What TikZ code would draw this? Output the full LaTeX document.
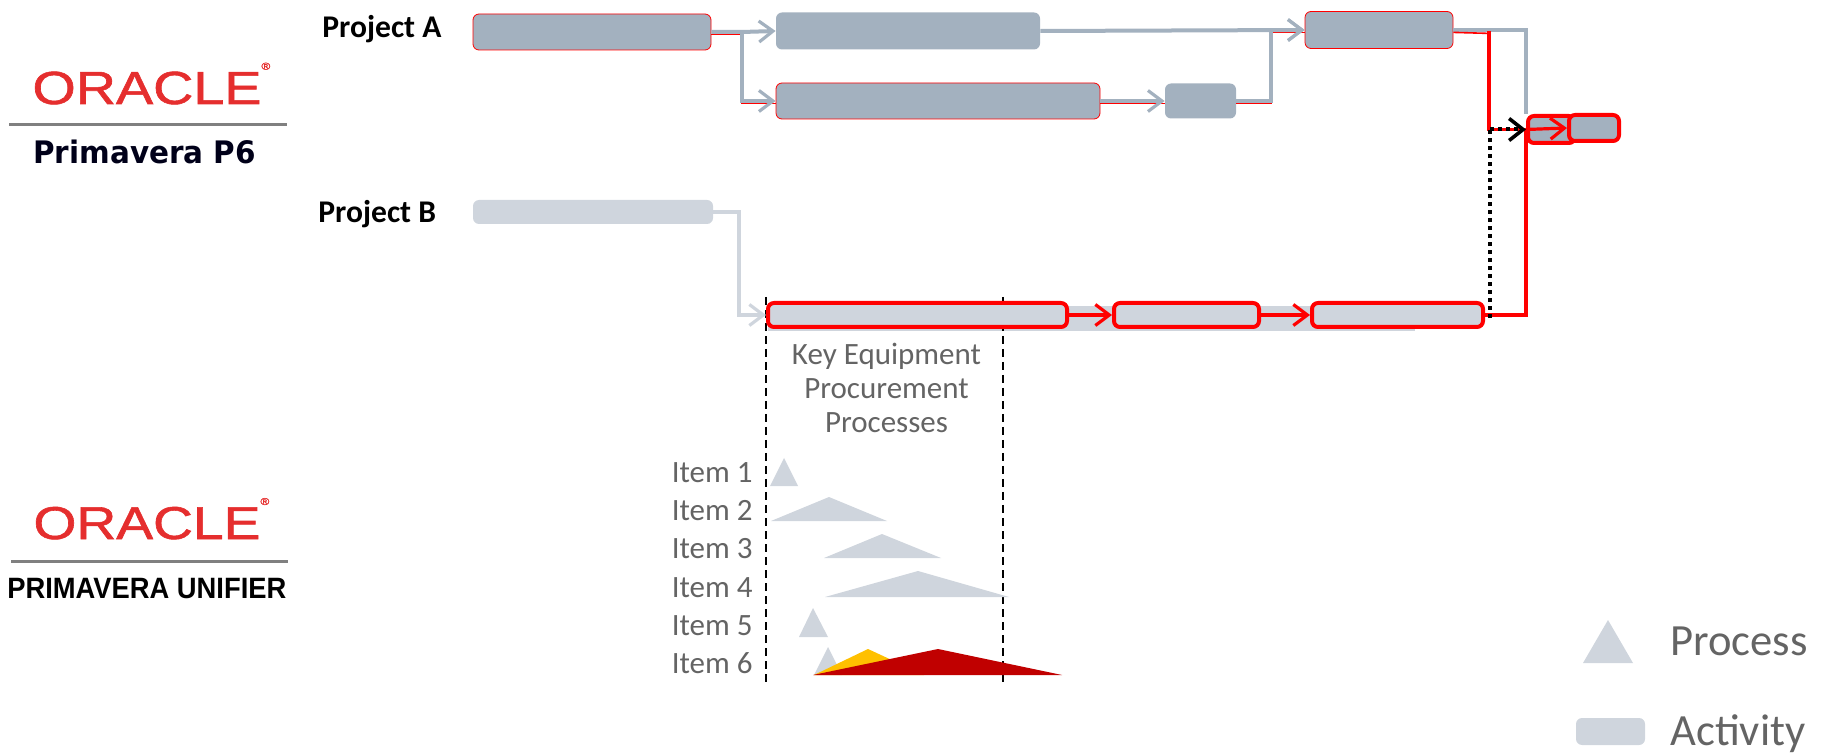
\documentclass[tikz,border=0pt]{standalone}
\usepackage{fontspec}
\setmainfont{Carlito}
\newfontfamily\logofont{Liberation Sans}
\newfontfamily\oraclefont[FakeBold=1.2]{Liberation Sans}
\newfontfamily\pvfont{DejaVu Sans}
\usepackage{tikz}
\usetikzlibrary{arrows.meta}

\definecolor{actdark}{HTML}{A3B1BF}
\definecolor{actlight}{HTML}{CFD5DD}
\definecolor{critred}{HTML}{FF0000}
\definecolor{labelgray}{HTML}{646464}
\definecolor{oraclered}{HTML}{E52E2E}
\definecolor{itemyellow}{HTML}{FFC000}
\definecolor{itemred}{HTML}{C00000}

\tikzset{
  actbox/.style={fill=actdark, rounded corners=3pt, inner sep=0pt},
  critbox/.style={fill=actlight, draw=critred, line width=2pt, rounded corners=3pt, inner sep=0pt},
  link/.style={draw=actdark, line width=2pt},
  lightlink/.style={draw=actlight, line width=1.6pt},
  critline/.style={draw=critred, line width=1.6pt},
  critthin/.style={draw=critred, line width=0.8pt, transform canvas={yshift=-1.2pt}},
  dotline/.style={draw=black, line width=2pt, dash pattern=on 2pt off 2pt},
  barb/.style={-{Straight Barb[length=7pt,width=10.5pt,line width=1.6pt]}},
  itemlabel/.style={text=labelgray, inner sep=0pt, anchor=base east, font=\fontsize{15.5}{17}\selectfont},
  projlabel/.style={inner sep=0pt, anchor=base west, font=\fontsize{15.8}{18}\selectfont\bfseries},
  procfill/.style={fill=actlight}
}

\begin{document}
\begin{tikzpicture}[x=0.5pt,y=-0.5pt]
    \useasboundingbox (0,0) rectangle (1833,754);

    % logos
    \node[inner sep=0pt, anchor=base west, xscale=1.2, text=oraclered, font=\oraclefont\fontsize{23.2}{24}\selectfont] (oracletop) at (32,104) {ORACLE\raisebox{1.4ex}{\fontsize{5}{5}\selectfont ®}};
    \draw[gray, line width=1.5pt] (9,125) -- (287,125);
    \node[inner sep=0pt, anchor=base west, xscale=0.95, text=black!90!blue, font=\pvfont\fontsize{15.5}{17}\selectfont\bfseries] (pvsix) at (33,164) {Primavera P6};

    \node[inner sep=0pt, anchor=base west, xscale=1.2, text=oraclered, font=\oraclefont\fontsize{23}{24}\selectfont] (oraclebot) at (33,539) {ORACLE\raisebox{1.4ex}{\fontsize{5}{5}\selectfont ®}};
    \draw[gray, line width=1.5pt] (11,561) -- (288,561);
    \node[inner sep=0pt, anchor=base west, xscale=0.93, text=black, font=\logofont\fontsize{14.7}{16}\selectfont\bfseries] (unifier) at (7,598) {PRIMAVERA UNIFIER};

    % project labels
    \node[projlabel] (proja) at (322,38) {Project A};
    \node[projlabel] (projb) at (318,223) {Project B};

    % background bar and window
    \fill[actlight] (768,306) rectangle (1415,331);
    \draw[black, line width=1pt, dash pattern=on 4pt off 2.5pt] (766,297) -- (766,684);
    \draw[black, line width=1pt, dash pattern=on 4pt off 2.5pt] (1003,297) -- (1003,684);

    % project A
    \node[actbox, draw=critred, line width=0.4pt, minimum width=119pt, minimum height=18pt] (a1) at (592,32) {};
    \node[actbox, minimum width=132pt, minimum height=18.5pt] (a2) at (908,31) {};
    \node[actbox, draw=critred, line width=0.4pt, minimum width=162pt, minimum height=18pt] (a3) at (938,101) {};
    \node[actbox, minimum width=35.5pt, minimum height=17.5pt] (a4) at (1200.5,101) {};
    \node[actbox, draw=critred, line width=0.4pt, minimum width=74pt, minimum height=18.5pt] (a5) at (1379,30) {};

    \coordinate (ja) at (742,32);
    \coordinate (jb) at (1271,101);
    \coordinate (jc) at (1526,30);
    \coordinate (jr) at (1489,31);

    \draw[critthin] (a1.east) -- (ja) |- (a3.west);
    \draw[critthin] (a3.east) -- (a4.west);
    \draw[critthin] (a4.east) -- (jb) |- (a5.west);

    \draw[link, barb] (a1.east) -- (ja) -- (a2.west);
    \draw[link, barb] (ja) |- (a3.west);
    \draw[link, barb] (a2.east) -- (a5.west);
    \draw[link, barb] (a3.east) -- (a4.west);
    \draw[link, barb] (a4.east) -- (jb) |- (a5.west);

    % project B
    \node[actbox, fill=actlight, minimum width=120pt, minimum height=12pt] (b1) at (593,212) {};
    \node[critbox, minimum width=149.5pt, minimum height=12pt] (b2) at (917.5,315) {};
    \node[critbox, minimum width=72.5pt, minimum height=12pt] (b3) at (1186.5,315) {};
    \node[critbox, minimum width=85.5pt, minimum height=12pt] (b4) at (1397.5,315) {};

    \coordinate (jp) at (739,212);
    \coordinate (jd) at (1526,315);
    \coordinate (jk) at (1490,318);

    \draw[lightlink, barb] (b1.east) -- (jp) |- (b2.west);
    \draw[critline, barb] (b2.east) -- (b3.west);
    \draw[critline, barb] (b3.east) -- (b4.west);

    % finish
    \node[actbox, draw=critred, line width=2pt, minimum width=23.5pt, minimum height=13.5pt] (f1) at (1551.5,129.5) {};
    \node[actbox, draw=critred, line width=2pt, minimum width=25pt, minimum height=13pt] (f2) at (1594,128) {};

    \draw[link] (a5.east) -- (jc) -- (jc |- f1.north);
    \draw[critthin] (a5.east) -- (jr);
    \draw[critline] (jr) -- (jr |- f1.west) -- (f1.west);
    \draw[critline] (b4.east) -- (jd) -- (jd |- f1.west);
    \draw[critline, barb] (f1.west) -- (f2.west);
    \draw[dotline] (jk) -- (jk |- f1.west);
    \draw[dotline, -{Straight Barb[length=7pt,width=11pt,line width=1.8pt]}] (jk |- f1.west) -- (f1.west);

    % procurement window
    \node[align=center, text=labelgray, font=\fontsize{15.5}{17}\selectfont] (window) at (886.5,388) {Key Equipment\\Procurement\\Processes};

    \node[itemlabel] (item1) at (753,482) {Item 1};
    \node[itemlabel] (item2) at (753,520) {Item 2};
    \node[itemlabel] (item3) at (753,558) {Item 3};
    \node[itemlabel] (item4) at (753,597) {Item 4};
    \node[itemlabel] (item5) at (753,635) {Item 5};
    \node[itemlabel] (item6) at (753,673) {Item 6};

    \fill[procfill] (770,486) -- (784,458) -- (798,486) -- cycle;
    \fill[procfill] (771,521) -- (829,497) -- (887,521) -- cycle;
    \fill[procfill] (824,558) -- (882,534) -- (941,558) -- cycle;
    \fill[procfill] (825,597) -- (918,571) -- (1009,597) -- cycle;
    \fill[procfill] (799,637) -- (813,608) -- (828,637) -- cycle;
    \fill[procfill] (814,675) -- (828,647) -- (842,675) -- cycle;
    \fill[itemyellow] (814,675) -- (868,649) -- (924,675) -- cycle;
    \fill[itemred] (813,675) -- (938,649) -- (1062,675) -- cycle;

    % legend
    \fill[procfill] (1583,663) -- (1608,620) -- (1633,663) -- cycle;
    \fill[actlight, rounded corners=3pt] (1576,718) rectangle (1645,745);
    \node[inner sep=0pt, anchor=base west, text=labelgray, font=\fontsize{22.3}{24}\selectfont] (process) at (1670,655) {Process};
    \node[inner sep=0pt, anchor=base west, text=labelgray, font=\fontsize{22.3}{24}\selectfont] (activity) at (1670,745) {Activity};

\end{tikzpicture}
\end{document}
